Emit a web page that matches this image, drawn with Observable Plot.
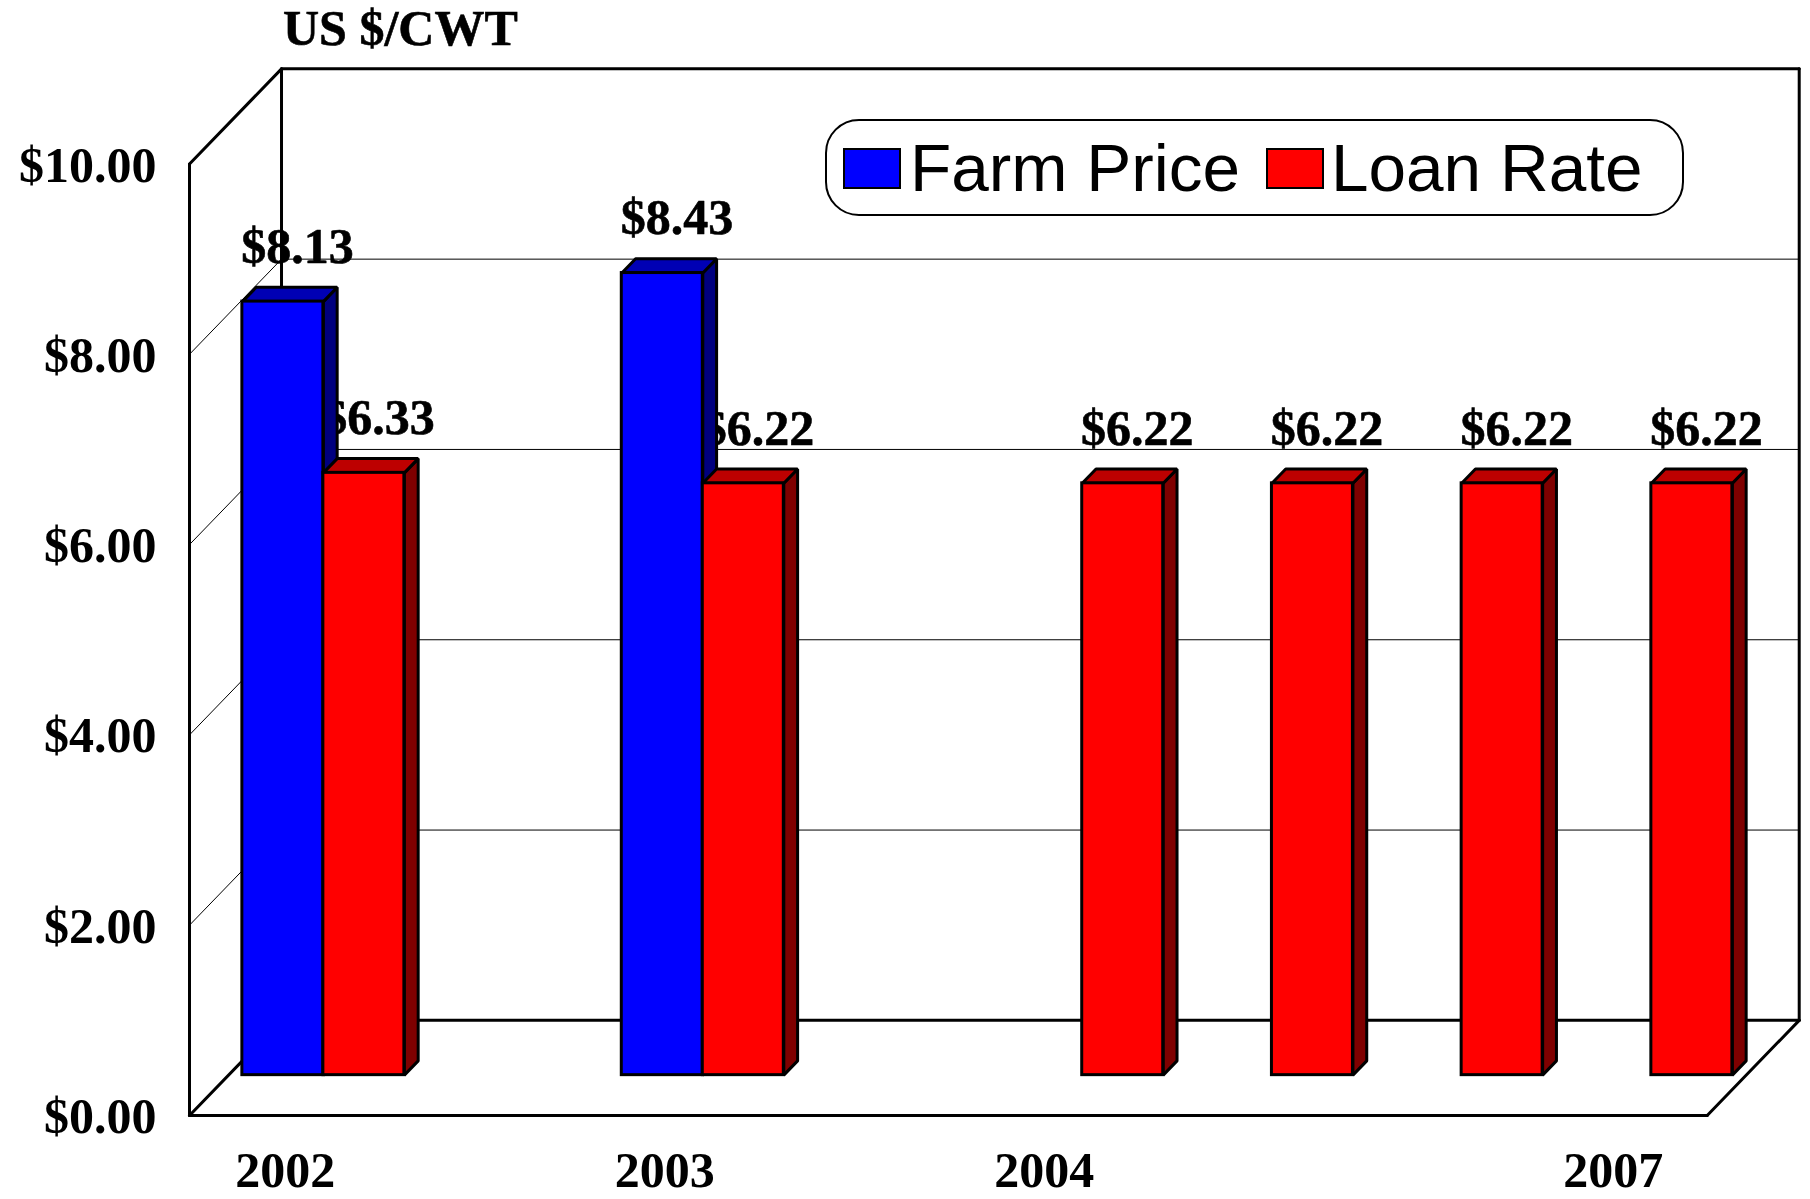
<!DOCTYPE html>
<html>
<head>
<meta charset="utf-8">
<script src="https://cdn.jsdelivr.net/npm/d3@7"></script>
<script src="https://cdn.jsdelivr.net/npm/@observablehq/plot@0.6"></script>
<style>
  html, body { margin: 0; padding: 0; background: #fff; }
  #wrap { position: relative; width: 1810px; height: 1199px; overflow: hidden; }
  #wrap svg { display: block; }
  .unit { position: absolute; left: 283px; top: -1.5px; font: bold 50px "Liberation Serif", serif; color: #000; white-space: nowrap; -webkit-text-stroke: 0.6px #000; }
  .legend { position: absolute; left: 825px; top: 119px; width: 855px; height: 93px; border: 2.5px solid #000; border-radius: 34px; background: #fff; }
  .sw { position: absolute; top: 148px; width: 54px; height: 37px; border: 2.5px solid #000; }
  .lt { position: absolute; top: 128.5px; font: 67.5px "Liberation Sans", sans-serif; color: #000; white-space: nowrap; }
</style>
</head>
<body>
<div id="wrap"></div>
<script>
// Data
const slotLabels = ["2002", "", "2003", "", "2004", "", "", "2007"];
const farmPrice = [8.13, null, 8.43, null, null, null, null, null];
const loanRate  = [6.33, null, 6.22, null, 6.22, 6.22, 6.22, 6.22];
const yTicks = [0, 2, 4, 6, 8, 10];
const seriesNames = ["Farm Price", "Loan Rate"];
const unitLabel = "US $/CWT";

// Oblique projection of the chart's box, expressed in data units
const depthX = 0.485, depthY = 1;      // full depth of the box
const barD0 = 0.424, barD1 = 0.574;    // depth range that the bars occupy
const barW = 0.427;                    // bar width, in categories
const P = (x, y, d = 0) => ({x: x + d * depthX, y: y + d * depthY});
const nSlots = slotLabels.length, yMax = d3.max(yTicks);
const fmt = d3.format("$.2f");
const lineW = 3, textHalo = 0.6;

function barRows(values, side) {
  return values.flatMap((v, i) => {
    if (v == null) return [];
    const c = i + 0.5;
    const a = side === 0 ? c - barW : c, b = a + barW;
    return [{i, v, a, b}];
  });
}
const poly = (id, pts) => pts.map(p => ({id, x: p.x, y: p.y}));
function topFaces(rows) {
  return rows.flatMap(r => poly(r.i, [P(r.a, r.v, barD0), P(r.b, r.v, barD0), P(r.b, r.v, barD1), P(r.a, r.v, barD1)]));
}
function sideFaces(rows) {
  return rows.flatMap(r => poly(r.i, [P(r.b, 0, barD0), P(r.b, r.v, barD0), P(r.b, r.v, barD1), P(r.b, 0, barD1)]));
}
function fronts(rows) {
  return rows.map(r => {
    const p = P(r.a, 0, barD0), q = P(r.b, r.v, barD0);
    return {x1: p.x, x2: q.x, y1: p.y, y2: q.y};
  });
}
const closed = (rows, fill) => Plot.line(rows, {x: "x", y: "y", z: "id", fill, stroke: "#000", strokeWidth: lineW, strokeLinejoin: "miter", curve: "linear-closed"});
const barMarks = (rows, front, top, side) => [
  closed(sideFaces(rows), side),
  closed(topFaces(rows), top),
  Plot.rect(fronts(rows), {x1: "x1", x2: "x2", y1: "y1", y2: "y2", fill: front, stroke: "#000", strokeWidth: lineW})
];
const seg = (id, a, b) => [{id, ...a}, {id, ...b}];
const lines = (rows, strokeWidth) => Plot.line(rows, {x: "x", y: "y", z: "id", stroke: "#000", strokeWidth});

// Thin grid: back wall and left wall
const grid = yTicks.filter(t => t > 0 && t < yMax).flatMap(t => [
  ...seg("b" + t, P(0, t, 1), P(nSlots, t, 1)),
  ...seg("l" + t, P(0, t, 0), P(0, t, 1))
]);
// Heavy outline of the box
const frame = [
  ...seg("a", P(0, 0), P(0, yMax)),
  ...seg("b", P(0, yMax), P(0, yMax, 1)),
  ...seg("c", P(0, 0, 1), P(0, yMax, 1)),
  ...seg("d", P(0, yMax, 1), P(nSlots, yMax, 1)),
  ...seg("e", P(nSlots, 0, 1), P(nSlots, yMax, 1)),
  ...seg("f", P(0, 0), P(nSlots, 0)),
  ...seg("g", P(0, 0), P(0, 0, 1)),
  ...seg("h", P(0, 0, 1), P(nSlots, 0, 1)),
  ...seg("i", P(nSlots, 0), P(nSlots, 0, 1))
];

const farmRows = barRows(farmPrice, 0), loanRows = barRows(loanRate, 1);
const labelRows = [...farmRows, ...loanRows].map(r => {
  const p = P((r.a + r.b) / 2, r.v, barD1);
  return {x: p.x, y: p.y, text: fmt(r.v)};
});
const xTicks = slotLabels.flatMap((s, i) => s ? [i + 0.5] : []);
const bold = {fontSize: 50, fontWeight: "bold", fill: "#000", stroke: "#000", strokeWidth: textHalo};

const chart = Plot.plot({
  width: 1810, height: 1199,
  marginLeft: 189, marginRight: 103.3, marginTop: 163.5, marginBottom: 84,
  x: {type: "linear", domain: [0, nSlots], axis: null},
  y: {type: "linear", domain: [0, yMax], axis: null},
  style: {fontFamily: "'Liberation Serif', serif", fontWeight: "bold", fontSize: "50px", background: "#fff", color: "#000", overflow: "visible"},
  marks: [
    lines(grid, 1),
    lines(frame, lineW),
    Plot.axisY(yTicks, {tickFormat: fmt, tickSize: 0, tickPadding: 33, label: null, dy: 1.5, ...bold}),
    Plot.axisX(xTicks, {tickFormat: x => slotLabels[x - 0.5], tickSize: 0, tickPadding: 36, label: null, dx: 1, ...bold}),
    Plot.text(labelRows, {x: "x", y: "y", text: "text", dy: -24.5, dx: 0.8, lineAnchor: "bottom", textAnchor: "middle", ...bold}),
    ...barMarks(farmRows, "#0000ff", "#0000b4", "#00007f"),
    ...barMarks(loanRows, "#ff0000", "#bd0000", "#7f0000")
  ]
});

const wrap = document.getElementById("wrap");
wrap.appendChild(chart);
function addDiv(cls, styleText, text) {
  const d = document.createElement("div");
  d.className = cls;
  d.style.cssText = styleText;
  if (text) d.textContent = text;
  wrap.appendChild(d);
}
addDiv("unit", "", unitLabel);
addDiv("legend", "");
addDiv("sw", "left:843px;background:#0000ff;");
addDiv("lt", "left:910px;", seriesNames[0]);
addDiv("sw", "left:1266px;background:#ff0000;");
addDiv("lt", "left:1331px;", seriesNames[1]);
</script>
</body>
</html>
